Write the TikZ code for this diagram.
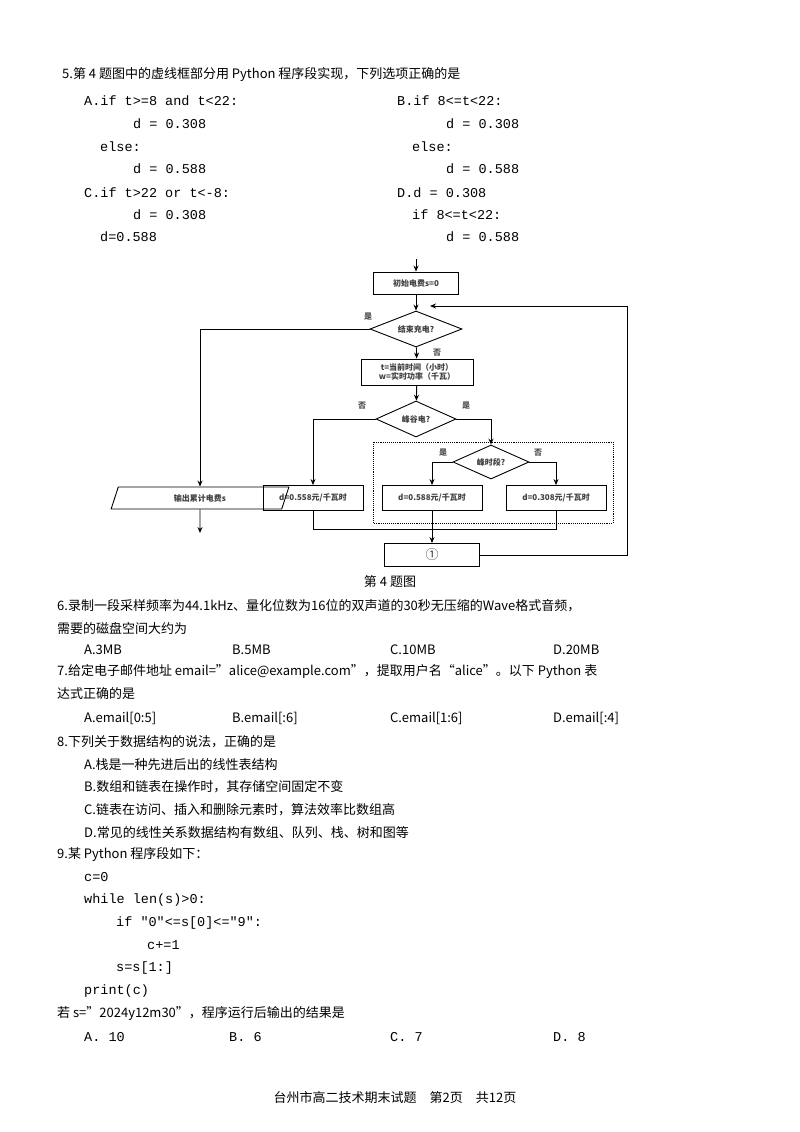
\documentclass[tikz,border=0pt]{standalone}
\usepackage{fontspec}
\setmainfont{Noto Sans CJK SC}
\setmonofont{Liberation Mono}
\usetikzlibrary{shapes.geometric,arrows.meta}
\begin{document}
\begin{tikzpicture}[x=1pt,y=-1pt,
  txt/.style={anchor=west,inner sep=0,font=\fontsize{13}{15}\selectfont},
  code/.style={anchor=west,inner sep=0,font=\fontsize{13.5}{15}\ttfamily},
  fbox/.style={draw,line width=0.9pt,minimum height=25pt,inner sep=1pt,font=\fontsize{8}{9.5}\selectfont\bfseries,text=black!75},
  fdia/.style={draw,line width=0.9pt,diamond,aspect=2.5,inner sep=0pt,font=\fontsize{8}{9}\selectfont\bfseries,text=black!75},
  lab/.style={font=\fontsize{8}{9}\selectfont\bfseries,text=black!70,inner sep=0},
  ln/.style={line width=0.9pt},
  ar/.style={line width=0.9pt,-{Stealth[length=6pt,width=5pt]}}]
\useasboundingbox (0,0) rectangle (800,1132);
\fill[white] (0,0) rectangle (800,1132);
% question 5
\node[txt] (q5) at (62,75) {5.第 4 题图中的虚线框部分用 Python 程序段实现，下列选项正确的是};
\node[code] (a1) at (84,101) {A.if t>=8 and t<22:};
\node[code] (a2) at (133,124) {d = 0.308};
\node[code] (a3) at (100,147) {else:};
\node[code] (a4) at (133,169) {d = 0.588};
\node[code] (c1) at (84,193) {C.if t>22 or t<-8:};
\node[code] (c2) at (133,215) {d = 0.308};
\node[code] (c3) at (100,237) {d=0.588};
\node[code] (b1) at (397,101) {B.if 8<=t<22:};
\node[code] (b2) at (446,124) {d = 0.308};
\node[code] (b3) at (412,147) {else:};
\node[code] (b4) at (446,169) {d = 0.588};
\node[code] (d1) at (397,193) {D.d = 0.308};
\node[code] (d2) at (412,215) {if 8<=t<22:};
\node[code] (d3) at (446,237) {d = 0.588};
% flowchart
\coordinate (top) at (416,259);
\node[fbox,minimum width=85pt,minimum height=22pt] (init) at (416,283) {初始电费s=0};
\node[fdia,minimum width=92pt,minimum height=36pt] (end) at (416,329) {结束充电?};
\node[fbox,minimum width=112pt,minimum height=26pt,align=center,font=\fontsize{8}{9}\selectfont\bfseries] (tw) at (417,372) {t=当前时间（小时）\\w=实时功率（千瓦）};
\node[fdia,minimum width=80pt,minimum height=36pt] (pg) at (416,419) {峰谷电?};
\node[fdia,minimum width=76pt,minimum height=34pt] (fs) at (491,462) {峰时段?};
\node[fbox,minimum width=100pt] (b558) at (313,498) {d=0.558元/千瓦时};
\node[fbox,minimum width=100pt] (b588) at (432,498) {d=0.588元/千瓦时};
\node[fbox,minimum width=100pt] (b308) at (556,498) {d=0.308元/千瓦时};
\node[draw,line width=0.9pt,trapezium,trapezium left angle=72,trapezium right angle=108,minimum width=20pt,minimum height=22pt,inner xsep=10pt,inner ysep=1pt,font=\fontsize{8}{9}\selectfont\bfseries,text=black!75] (out) at (200,498) {输出累计电费s};
\node[fbox,minimum width=95pt,minimum height=23pt,font=\fontsize{13}{14}\selectfont] (c1box) at (432,555) {①};
\coordinate (outend) at (200,533);
\coordinate (loop) at (430,306);
\coordinate (jn) at (432,529);
\node[txt,anchor=center] (cap) at (390,582) {第 4 题图};
\draw[ar] (top) -- (init);
\draw[ar] (init) -- (end);
\draw[ar] (end) -- (tw);
\draw[ar] (tw) -- (pg);
\draw[ar] (end.west) -| (out.north);
\draw[ar] (out.south) -- (outend);
\draw[ar] (pg.west) -| (b558.north);
\draw[ar] (pg.east) -| (fs.north);
\draw[ar] (fs.west) -| (b588.north);
\draw[ar] (fs.east) -| (b308.north);
\draw[ln] (b558.south) |- (jn);
\draw[ln] (b308.south) |- (jn);
\draw[ar] (b588.south) -- (c1box.north);
\draw[ar] (c1box.east) -| (627,306) -- (loop);
\draw[line width=0.9pt,densely dotted] (373,442) rectangle (613,523);
\node[lab] (l1) at (368,317) {是};
\node[lab] (l2) at (437,353) {否};
\node[lab] (l3) at (362,406) {否};
\node[lab] (l4) at (466,406) {是};
\node[lab] (l5) at (443,453) {是};
\node[lab] (l6) at (538,453) {否};
% question 6
\node[txt] (q6a) at (57,606) {6.录制一段采样频率为44.1kHz、量化位数为16位的双声道的30秒无压缩的Wave格式音频，};
\node[txt] (q6b) at (57,628) {需要的磁盘空间大约为};
\node[txt] (q6A) at (84,650) {A.3MB};
\node[txt] (q6B) at (232,650) {B.5MB};
\node[txt] (q6C) at (390,650) {C.10MB};
\node[txt] (q6D) at (553,650) {D.20MB};
% question 7
\node[txt] (q7a) at (57,672) {7.给定电子邮件地址 email="alice@example.com"，提取用户名“alice”。以下 Python 表};
\node[txt] (q7b) at (57,694) {达式正确的是};
\node[txt] (q7A) at (84,718) {A.email[0:5]};
\node[txt] (q7B) at (232,718) {B.email[:6]};
\node[txt] (q7C) at (390,718) {C.email[1:6]};
\node[txt] (q7D) at (553,718) {D.email[:4]};
% question 8
\node[txt] (q8) at (57,742) {8.下列关于数据结构的说法，正确的是};
\node[txt] (q8A) at (84,765) {A.栈是一种先进后出的线性表结构};
\node[txt] (q8B) at (84,787) {B.数组和链表在操作时，其存储空间固定不变};
\node[txt] (q8C) at (84,810) {C.链表在访问、插入和删除元素时，算法效率比数组高};
\node[txt] (q8D) at (84,833) {D.常见的线性关系数据结构有数组、队列、栈、树和图等};
% question 9
\node[txt] (q9) at (57,855) {9.某 Python 程序段如下：};
\node[code] (p1) at (84,877) {c=0};
\node[code] (p2) at (84,900) {while len(s)>0:};
\node[code] (p3) at (116,923) {if "0"<=s[0]<="9":};
\node[code] (p4) at (147,945) {c+=1};
\node[code] (p5) at (116,968) {s=s[1:]};
\node[code] (p6) at (84,991) {print(c)};
\node[txt] (q9b) at (57,1014) {若 s="2024y12m30"，程序运行后输出的结果是};
\node[code] (q9A) at (84,1037) {A. 10};
\node[code] (q9B) at (229,1037) {B. 6};
\node[code] (q9C) at (390,1037) {C. 7};
\node[code] (q9D) at (553,1037) {D. 8};
\node[txt,anchor=center] (foot) at (395,1098) {台州市高二技术期末试题\quad 第2页\quad 共12页};
\end{tikzpicture}
\end{document}
